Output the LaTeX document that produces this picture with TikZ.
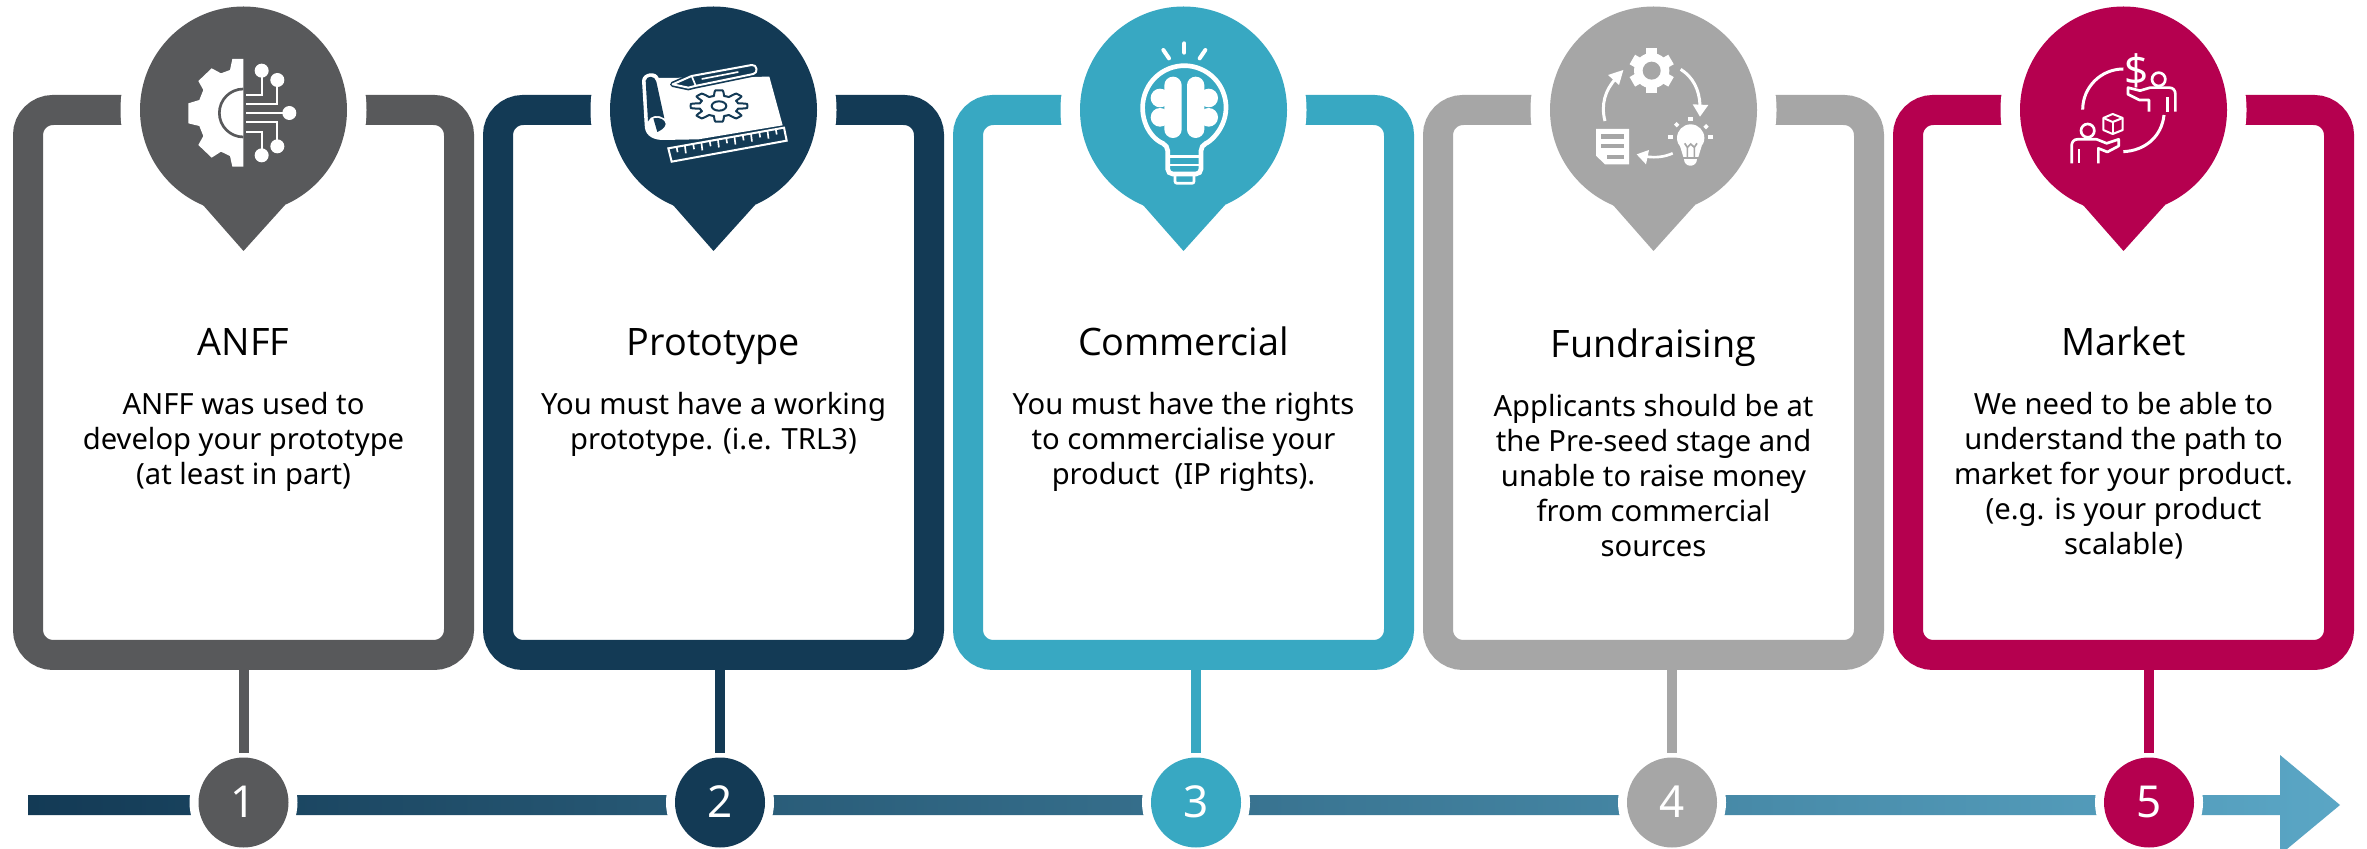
\documentclass[tikz,border=0pt]{standalone}
\usepackage{fontspec}
\setmainfont{Noto Sans}
\newfontfamily\titlefont{Open Sans}
\definecolor{gry}{HTML}{58595B}
\definecolor{nvy}{HTML}{133A55}
\definecolor{tel}{HTML}{38A8C2}
\definecolor{lgr}{HTML}{A6A6A6}
\definecolor{crm}{HTML}{B5004F}
\definecolor{arw}{HTML}{5AA6C5}
\tikzset{
  cardbox/.style={rectangle,draw=#1,line width=15pt,rounded corners=12.5pt,minimum width=215.5pt,minimum height=272.5pt,outer sep=0pt,inner sep=0pt},
  pinhalo/.style={circle,fill=white,minimum size=123pt,inner sep=0pt,outer sep=0pt},
  pinhead/.style={circle,fill=#1,minimum size=103.5pt,inner sep=0pt,outer sep=0pt},
  numhalo/.style={circle,fill=white,minimum size=54pt,inner sep=0pt,outer sep=0pt},
  numdot/.style={circle,fill=#1,minimum size=45pt,inner sep=0pt,outer sep=0pt,text=white,font=\fontsize{22}{24}\selectfont},
  stem/.style={draw=#1,line width=5pt,shorten >=2.5pt},
  titletext/.style={anchor=base,inner sep=0pt,font=\titlefont\fontsize{18.9}{22}\selectfont,text=black},
  bodytext/.style={anchor=base,inner sep=0pt,font=\fontsize{14.6}{17.5}\selectfont,text=black},
  ic/.style={x=.166667pt,y=-.166667pt},
  wl/.style={draw=white,line width=#1*.166667pt},
  cl/.style 2 args={draw=#1,line width=#2*.166667pt},
}
\newcommand{\bodylines}[1]{\parbox[t]{190pt}{\centering #1}}
\begin{document}
\begin{tikzpicture}[x=.5pt,y=-.5pt]
\useasboundingbox (0,0) rectangle (2367,849);
\clip (0,0) rectangle (2367,849);
\fill[white] (0,0) rectangle (2367,849);
% timeline
\coordinate (tlstart) at (28,805);
\coordinate (tltip) at (2340,805);
\shade[left color=nvy,right color=arw]
  (28,795) -- (2280,795) -- (2280,755) -- (2340,805) -- (2287,849) -- (2280,849) -- (2280,815) -- (28,815) -- cycle;
% number circles, cards, pins
\foreach \i/\cx/\nx/\col in {1/243.5/243.5/gry,2/713.5/720/nvy,3/1183.5/1196/tel,4/1653.5/1672/lgr,5/2123.5/2149/crm}{
  \node[numhalo] (nh\i) at (\nx,802.5) {};
  \node[numdot=\col] (num\i) at (\nx,802.5) {\raisebox{1pt}{\i}};
  \node[cardbox=\col] (card\i) at (\cx,382.5) {};
  \draw[stem=\col] (card\i.south -| num\i) -- (num\i.north);
  \node[pinhalo] (ph\i) at (\cx,110) {};
  \fill[\col] (\cx-40.5,205) -- (\cx,251) -- (\cx+41.5,205) -- cycle;
  \node[pinhead=\col] (pin\i) at (\cx,110) {};
}
% icon 1
\begin{scope}[ic]
\fill[white] (730,177) -- (697,177) -- (690,210) -- (663,220) -- (635,205) -- (595,243) -- (610,270) -- (598,300) -- (565,310) -- (565,370) -- (598,378) -- (610,408) -- (595,435) -- (635,473) -- (663,455) -- (690,468) -- (697,500) -- (730,500) -- cycle;
\draw[cl={gry}{8}] (730,267) arc (-90:-270:72);
\draw[wl=6] (738,285) -- (785,285) -- (785,225);
\draw[wl=6] (738,313) -- (832,313) -- (832,255);
\draw[wl=6] (738,340) -- (850,340);
\draw[wl=6] (738,367) -- (832,367) -- (832,425);
\draw[wl=6] (738,397) -- (785,397) -- (785,450);
\foreach \p in {(785,212),(832,240),(868,339),(832,439),(785,466)} \fill[white] \p circle (21);
\end{scope}
% icon 2
\begin{scope}[ic,xshift=315pt,yshift=-25pt]
\fill[white] (36,92) .. controls (38,66) and (80,62) .. (86,84) -- (418,80) -- (458,226) -- (205,268) -- (95,270) .. controls (60,268) and (44,250) .. (44,225) -- cycle;
\fill[nvy] (47,92) .. controls (50,76) and (75,76) .. (79,95) -- (103,205) .. controls (85,193) and (62,195) .. (54,214) -- cycle;
\fill[nvy] (70,205) .. controls (90,200) and (105,210) .. (107,222) .. controls (105,235) and (90,242) .. (82,246) -- cycle;
\draw[cl={nvy}{16},line join=round] (128,103) -- (185,78) -- (365,45) .. controls (382,42) and (385,70) .. (370,72) -- (195,108) -- (175,113) -- cycle;
\draw[wl=6,fill=nvy,line join=round] (128,103) -- (185,78) -- (365,45) .. controls (382,42) and (385,70) .. (370,72) -- (195,108) -- (175,113) -- cycle;
\draw[wl=5] (215,87) -- (325,66);
\draw[wl=5] (185,78) -- (197,107);
\draw[cl={nvy}{6},line join=round] plot[domain=0:360,samples=193] ({267+(72+13*max(-1,min(1,2.2*cos(8*\x))))*cos(\x)},{168+(39+8*max(-1,min(1,2.2*cos(8*\x))))*sin(\x)}) -- cycle;
\draw[cl={nvy}{6}] (267,168) ellipse (22 and 14);
\draw[wl=6,fill=nvy] (115,295) -- (462,233) -- (470,272) -- (125,335) -- cycle;
\foreach \i in {1,...,13}{
  \draw[wl=5] ({115+347*\i/14},{295-62*\i/14}) -- ++(3,{mod(\i,2)==0 ? 24 : 16});
}
\end{scope}
% icon 3
\begin{scope}[ic,xshift=475pt]
\draw[wl=12,line cap=round] (703,130) -- (703,158);
\draw[wl=12,line cap=round] (640,150) -- (657,175);
\draw[wl=12,line cap=round] (766,150) -- (749,175);
\draw[wl=14,rounded corners=2.5pt] (653,436.6) arc (113.6:426.4:125) -- (753,522) -- (653,522) -- cycle;
\draw[wl=7] (653,470) -- (753,470);
\draw[wl=7] (653,495) -- (753,495);
\draw[wl=8,rounded corners=1pt] (675,528) -- (675,550) -- (732,550) -- (732,528);
\fill[white,rounded corners=4.3pt] (643,230) rectangle (695,414);
\fill[white] (630,294) circle (28);
\fill[white] (630,352) circle (28);
\fill[white,rounded corners=4.3pt] (711,230) rectangle (763,414);
\fill[white] (776,294) circle (28);
\fill[white] (776,352) circle (28);
\end{scope}
% icon 4
\begin{scope}[ic,xshift=790pt,yshift=-20pt]
\fill[white] (215,92) circle (53);
\foreach \a in {90,150,210,270,330,30}{
  \draw[white,line width=5.5pt] (215,92) ++(\a:42) -- ++(\a:25);
}
\fill[lgr] (215,92) circle (27);
\draw[wl=9] (302,88) .. controls (340,112) and (358,150) .. (360,196);
\fill[white] (338,193) -- (385,195) -- (360,230) -- cycle;
\draw[wl=9] (75,243) .. controls (62,195) and (75,150) .. (108,115);
\fill[white] (84,105) -- (130,90) -- (117,135) -- cycle;
\draw[wl=8] (278,340) .. controls (255,350) and (230,354) .. (200,350);
\fill[white] (170,343) -- (207,330) -- (198,373) -- cycle;
\fill[white] (48,267) -- (147,267) -- (147,373) -- (75,373) -- (48,347) -- cycle;
\fill[lgr] (63,283) rectangle (133,296);
\fill[lgr] (63,312) rectangle (133,325);
\fill[lgr] (80,345) rectangle (133,357);
\fill[white] (332,294) circle (41);
\fill[white] (300,318) -- (365,318) -- (355,351) -- (310,351) -- cycle;
\fill[white] (312,358) -- (352,358) .. controls (352,385) and (312,385) .. (312,358) -- cycle;
\draw[cl={lgr}{5}] (322,351) -- (322,322) -- (314,310);
\draw[cl={lgr}{5}] (343,351) -- (343,322) -- (351,310);
\draw[cl={lgr}{5}] (322,322) -- (332,312) -- (343,322);
\fill[white] (324,231) rectangle (340,243);
\fill[white] (264,284) rectangle (280,297);
\fill[white] (384,284) rectangle (400,297);
\fill[white] (290,246) -- (298,254) -- (290,262) -- (282,254) -- cycle;
\fill[white] (378,252) -- (386,260) -- (378,268) -- (370,260) -- cycle;
\end{scope}
% icon 5
\begin{scope}[ic,xshift=945pt]
\draw[wl=9] (700,207) arc (-90:-180:122);
\draw[wl=9] (700,455) .. controls (765,452) and (815,410) .. (822,345);
\node[inner sep=0pt,text=white,font=\fontsize{21}{24}\selectfont] (dollar) at (738,212) {\$};
\draw[wl=8] (806,238) circle (20);
\draw[wl=8,line join=round] (777,335) -- (777,300) -- (748,300) -- (714,283) -- (714,263) -- (750,272) -- (780,263) -- (838,263) .. controls (850,263) and (856,272) .. (856,282) -- (856,335);
\draw[wl=8] (833,292) -- (833,335);
\draw[wl=8] (593,392) circle (20);
\draw[wl=8,line join=round] (545,490) -- (545,436) .. controls (545,426) and (552,418) .. (562,418) -- (620,418) -- (650,430) -- (686,418) -- (686,438) -- (652,456) -- (625,445) -- (625,490);
\draw[wl=8] (567,447) -- (567,490);
\draw[wl=6,line join=round] (668,342) -- (698,354) -- (698,390) -- (668,402) -- (640,390) -- (640,354) -- cycle;
\draw[wl=6] (640,354) -- (668,366) -- (698,354);
\draw[wl=6] (668,366) -- (668,402);
\end{scope}
% texts
\node[titletext] (t1) at (243.5,356) {ANFF};
\node[titletext] (t2) at (713.5,356) {Prototype};
\node[titletext] (t3) at (1183.5,356) {Commercial};
\node[titletext] (t4) at (1653.5,358) {Fundraising};
\node[titletext] (t5) at (2123.5,356) {Market};
\node[bodytext] (b1) at (243.5,415) {\bodylines{ANFF was used to\\develop your prototype\\(at least in part)}};
\node[bodytext] (b2) at (713.5,415) {\bodylines{You must have a working\\prototype. (i.e. TRL3)}};
\node[bodytext] (b3) at (1183.5,415) {\bodylines{You must have the rights\\to commercialise your\\product\ \ (IP rights).}};
\node[bodytext] (b4) at (1653.5,417) {\bodylines{Applicants should be at\\the Pre-seed stage and\\unable to raise money\\from commercial\\sources}};
\node[bodytext] (b5) at (2123.5,415) {\bodylines{We need to be able to\\understand the path to\\market for your product.\\(e.g. is your product\\scalable)}};
\end{tikzpicture}
\end{document}
